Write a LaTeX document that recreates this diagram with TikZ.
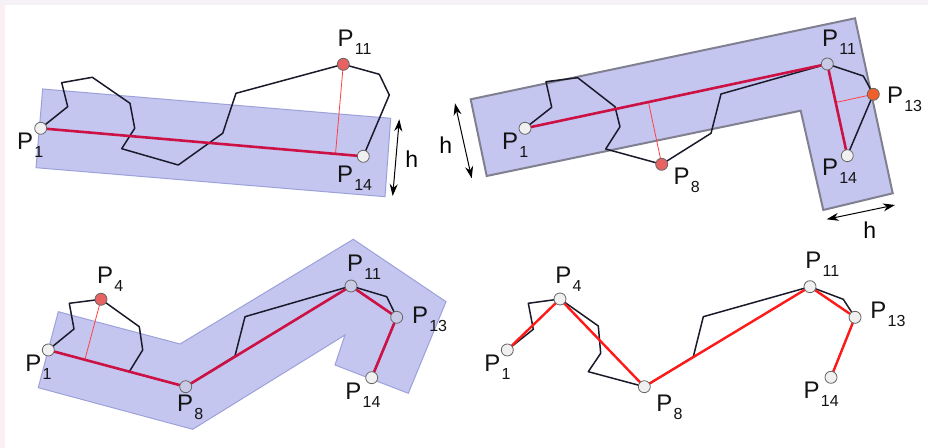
\documentclass[tikz,border=0pt]{standalone}
\usepackage{fontspec}
\setmainfont{Liberation Sans}
\usetikzlibrary{arrows.meta,calc}
\definecolor{fillb}{HTML}{C5C6F0}
\definecolor{edgeb}{HTML}{9DA1DA}
\definecolor{edgeg}{HTML}{808090}
\definecolor{crim}{HTML}{CC1144}
\definecolor{brt}{HTML}{FF1A1A}
\definecolor{pred}{HTML}{E86262}
\definecolor{porg}{HTML}{F0602A}
\definecolor{pblu}{HTML}{C8CAE6}
\definecolor{pwht}{HTML}{F0F0F0}
\definecolor{curve}{HTML}{1A1A2A}
\definecolor{bandl}{HTML}{FCEFF3}
\definecolor{bandt}{HTML}{F6F1F6}
\newcommand{\PL}[1]{P\kern0.6pt\raisebox{-4pt}{\fontsize{8}{9}\selectfont #1}}
\tikzset{
  strip/.style={fill=fillb, draw=edgeb, line width=0.5pt, line join=miter},
  stripg/.style={fill=fillb, draw=edgeg, line width=1pt, line join=miter},
  route/.style={draw=curve, line width=0.75pt, line join=round},
  simp/.style={draw=crim, line width=1.3pt, line join=round},
  simpr/.style={draw=brt, line width=1.2pt, line join=round},
  perp/.style={draw=red!75, line width=0.4pt},
  pt/.style={circle, draw=black!60, line width=0.4pt, minimum size=6pt, inner sep=0pt},
  lab/.style={font=\fontsize{12}{13}\selectfont, inner sep=0pt, anchor=base west, text=black!92},
  hlab/.style={font=\fontsize{11.5}{12}\selectfont, inner sep=0pt, anchor=base west},
  dim/.style={{Stealth[length=6pt,width=4pt]}-{Stealth[length=6pt,width=4pt]}, line width=0.5pt}
}
\begin{document}
\begin{tikzpicture}[x=0.5pt,y=-0.5pt]
\useasboundingbox (0,0) rectangle (928,448);
\fill[white] (0,0) rectangle (928,448);
\fill[bandl] (0,0) rectangle (5,448);
\fill[bandt] (0,0) rectangle (928,5);

% ---------- panel 1 ----------
\coordinate (a1) at (40.7,128.3);
\coordinate (a14) at (363.3,156.3);
\coordinate (a11) at (343.3,64.3);
\draw[strip] (42.7,89) -- (390.7,118.3) -- (385,196.7) -- (36,167.7) -- cycle;
\draw[route] (a1) -- (67.7,106.7) -- (61.7,82.7) -- (92.3,77.3) -- (130,103.3) -- (134.7,128.3) -- (121.7,148.7) -- (178.3,165) -- (222.7,133.3) -- (236,93.3) -- (a11) -- (379.3,74.3) -- (389.3,95) -- (a14);
\coordinate (fa) at ($(a1)!(a11)!(a14)$);
\draw[perp] (a11) -- (fa);
\draw[simp] (a1) -- (a14);
\node[pt, fill=pwht] (na1) at (a1) {};
\node[pt, fill=pwht] (na14) at (a14) {};
\node[pt, fill=pred] (na11) at (a11) {};
\node[lab] (la1) at (16.7,150) {\PL{1}};
\node[lab] (la14) at (336.7,182.5) {\PL{14}};
\node[lab] (la11) at (337.3,46.7) {\PL{11}};
\coordinate (h1a) at (399.3,119.3);
\coordinate (h1b) at (392.7,196);
\draw[dim] (h1a) -- (h1b);
\node[hlab] (lh1) at (405,167.3) {h};

% ---------- panel 2 ----------
\coordinate (b1) at (525,128.3);
\coordinate (b8) at (661.7,164.3);
\coordinate (b11) at (827.3,64);
\coordinate (b13) at (873.3,94.3);
\coordinate (b14) at (847.3,155.7);
\draw[stripg] (470.7,99.3) -- (855,18.3) -- (892.7,193.3) -- (823.3,210) -- (800.7,110.7) -- (486.7,176) -- cycle;
\draw[route] (b1) -- (551.7,107.3) -- (546,81.7) -- (577.7,77.7) -- (615,106.7) -- (620,126.7) -- (605.7,149) -- (b8) -- (711,133.3) -- (721,94) -- (b11) -- (863.3,76) -- (b13) -- (b14);
\coordinate (fb8) at ($(b1)!(b8)!(b11)$);
\coordinate (fb13) at ($(b11)!(b13)!(b14)$);
\draw[perp] (b8) -- (fb8);
\draw[perp] (b13) -- (fb13);
\draw[simp] (b1) -- (b11) -- (b14);
\node[pt, fill=pwht] (nb1) at (b1) {};
\node[pt, fill=pred] (nb8) at (b8) {};
\node[pt, fill=pblu] (nb11) at (b11) {};
\node[pt, fill=porg] (nb13) at (b13) {};
\node[pt, fill=pwht] (nb14) at (b14) {};
\node[lab] (lb1) at (501.7,150) {\PL{1}};
\node[lab] (lb8) at (673.3,185) {\PL{8}};
\node[lab] (lb14) at (821.7,176) {\PL{14}};
\node[lab] (lb11) at (821.7,46.7) {\PL{11}};
\node[lab] (lb13) at (886.7,103.3) {\PL{13}};
\coordinate (h2a) at (455,103.3);
\coordinate (h2b) at (471.7,178.3);
\draw[dim] (h2a) -- (h2b);
\node[hlab] (lh2) at (439,153.3) {h};
\coordinate (h3a) at (826.7,219.3);
\coordinate (h3b) at (895,205);
\draw[dim] (h3a) -- (h3b);
\node[hlab] (lh3) at (863,238.3) {h};

% ---------- panel 3 ----------
\coordinate (c1) at (48.3,350);
\coordinate (c4) at (101,299.3);
\coordinate (c8) at (185.7,386.7);
\coordinate (c11) at (351,286);
\coordinate (c13) at (396.7,317.3);
\coordinate (c14) at (371.7,377.7);
\draw[strip] (58.3,311.7) -- (180,344) -- (353.3,239.3) -- (446,301.7) -- (408.3,393.3) -- (335,365) -- (345,335) -- (192.7,429.3) -- (38.3,387.7) -- cycle;
\draw[route] (c1) -- (74,329) -- (69.3,303.3) -- (c4) -- (139.3,326.7) -- (142.7,350) -- (129.3,371.7) -- (c8) -- (235,356) -- (245,316.7) -- (c11) -- (386.7,296.7) -- (c13) -- (c14);
\coordinate (fc4) at ($(c1)!(c4)!(c8)$);
\draw[perp] (c4) -- (fc4);
\draw[simp] (c1) -- (c8) -- (c11) -- (c13) -- (c14);
\node[pt, fill=pwht] (nc1) at (c1) {};
\node[pt, fill=pred] (nc4) at (c4) {};
\node[pt, fill=pblu] (nc8) at (c8) {};
\node[pt, fill=pblu] (nc11) at (c11) {};
\node[pt, fill=pblu] (nc13) at (c13) {};
\node[pt, fill=pwht] (nc14) at (c14) {};
\node[lab] (lc4) at (96.7,283.3) {\PL{4}};
\node[lab] (lc1) at (25,371.7) {\PL{1}};
\node[lab] (lc8) at (176.7,411.7) {\PL{8}};
\node[lab] (lc11) at (346.7,271.7) {\PL{11}};
\node[lab] (lc13) at (411.7,323.3) {\PL{13}};
\node[lab] (lc14) at (345,399.3) {\PL{14}};

% ---------- panel 4 ----------
\coordinate (d1) at (507.3,350);
\coordinate (d4) at (560,299);
\coordinate (d8) at (644.3,386.7);
\coordinate (d11) at (810,286.7);
\coordinate (d13) at (855,317.3);
\coordinate (d14) at (831,377.3);
\draw[route] (d1) -- (533.3,329.3) -- (528.3,303.3) -- (d4) -- (598.3,326) -- (600.7,353.3) -- (588.3,371.7) -- (d8) -- (693.3,356.7) -- (703.3,316.7) -- (d11) -- (843.3,299.3) -- (d13) -- (d14);
\draw[simpr] (d1) -- (d4) -- (d8) -- (d11) -- (d13) -- (d14);
\node[pt, fill=pwht] (nd1) at (d1) {};
\node[pt, fill=pwht] (nd4) at (d4) {};
\node[pt, fill=pwht] (nd8) at (d8) {};
\node[pt, fill=pwht] (nd11) at (d11) {};
\node[pt, fill=pwht] (nd13) at (d13) {};
\node[pt, fill=pwht] (nd14) at (d14) {};
\node[lab] (ld4) at (555,283.3) {\PL{4}};
\node[lab] (ld1) at (484,371.7) {\PL{1}};
\node[lab] (ld8) at (656,411.7) {\PL{8}};
\node[lab] (ld11) at (805,268.3) {\PL{11}};
\node[lab] (ld13) at (870,318.3) {\PL{13}};
\node[lab] (ld14) at (803.3,398.3) {\PL{14}};
\end{tikzpicture}
\end{document}
